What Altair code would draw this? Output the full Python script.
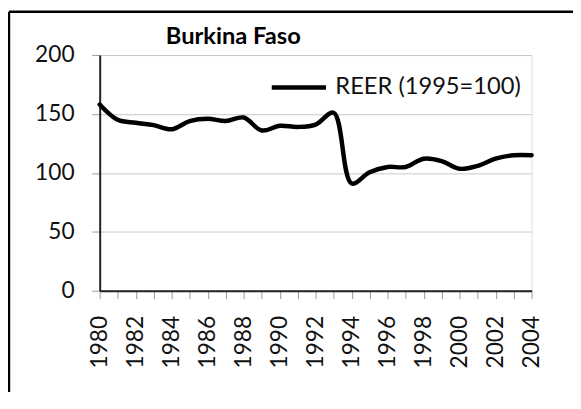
import altair as alt
import pandas as pd

years = list(range(1980, 2005))
reer = [158, 145, 142.5, 140.5, 137, 144, 146, 144, 147, 136, 140, 139, 141,
        151, 91, 100.5, 105, 105, 112, 110, 103.5, 106, 112, 115, 115]
series_name = "REER (1995=100)"
title_text = "Burkina Faso"
y_ticks = [0, 50, 100, 150, 200]
x_ticks = years

df = pd.DataFrame({"year": years, "value": reer, "series": series_name})

FONT = "Lato"

line = alt.Chart(df).mark_line(
    interpolate="catmull-rom", strokeWidth=4.5, strokeCap="round", strokeJoin="round"
).encode(
    x=alt.X(
        "year:Q",
        scale=alt.Scale(domain=[1980, 2004], nice=False, zero=False),
        axis=alt.Axis(
            values=x_ticks,
            labelExpr="datum.value % 2 == 0 ? format(datum.value, 'd') : ''",
            labelAngle=-90, labelAlign="right", labelBaseline="middle",
            grid=False, title=None, tickSize=8, tickColor="#9a9a9a",
            labelPadding=17, labelFont=FONT, labelFontSize=23, labelColor="#111111",
            domainColor="#222222", domainWidth=2, labelOverlap=False,
        ),
    ),
    y=alt.Y(
        "value:Q",
        scale=alt.Scale(domain=[0, 200], nice=False),
        axis=alt.Axis(
            values=y_ticks, title=None, tickSize=8, tickColor="#9a9a9a",
            labelPadding=18, labelFont=FONT, labelFontSize=23, labelColor="#111111",
            grid=True, gridColor="#c8c8c8", gridWidth=1,
            domainColor="#222222", domainWidth=2,
        ),
    ),
    color=alt.Color(
        "series:N",
        scale=alt.Scale(range=["#000000"]),
        legend=alt.Legend(
            orient="none", legendX=172, legendY=3, title=None,
            symbolType="stroke", symbolSize=3025, symbolStrokeWidth=4.5,
            symbolStrokeColor="#000000", labelLimit=400,
            labelFont=FONT, labelFontSize=24, labelColor="#111111", labelOffset=7,
        ),
    ),
)

frame_df = pd.DataFrame({"a": [0]})
vrule = alt.Chart(frame_df).mark_rule(color="#000000", strokeWidth=2.5).encode(
    x=alt.value(-92), y=alt.value(-44), y2=alt.value(420)
)
hrule = alt.Chart(frame_df).mark_rule(color="#000000", strokeWidth=2.5).encode(
    x=alt.value(-92), x2=alt.value(480), y=alt.value(-44)
)

title_df = pd.DataFrame({"t": [title_text]})
title = alt.Chart(title_df).mark_text(
    align="left", baseline="alphabetic", font=FONT, fontSize=24,
    fontWeight="bold", color="#000000",
).encode(text="t:N", x=alt.value(67), y=alt.value(-11))

chart = alt.layer(line, vrule, hrule, title).properties(
    width=438,
    height=239,
    autosize=alt.AutoSizeParams(type="none"),
    padding={"left": 93, "top": 45, "right": 42, "bottom": 100},
).configure_view(
    stroke="#222222", strokeWidth=2
).configure(background="white")

chart.save("out.html", embed_options={"renderer": "svg", "actions": False})
